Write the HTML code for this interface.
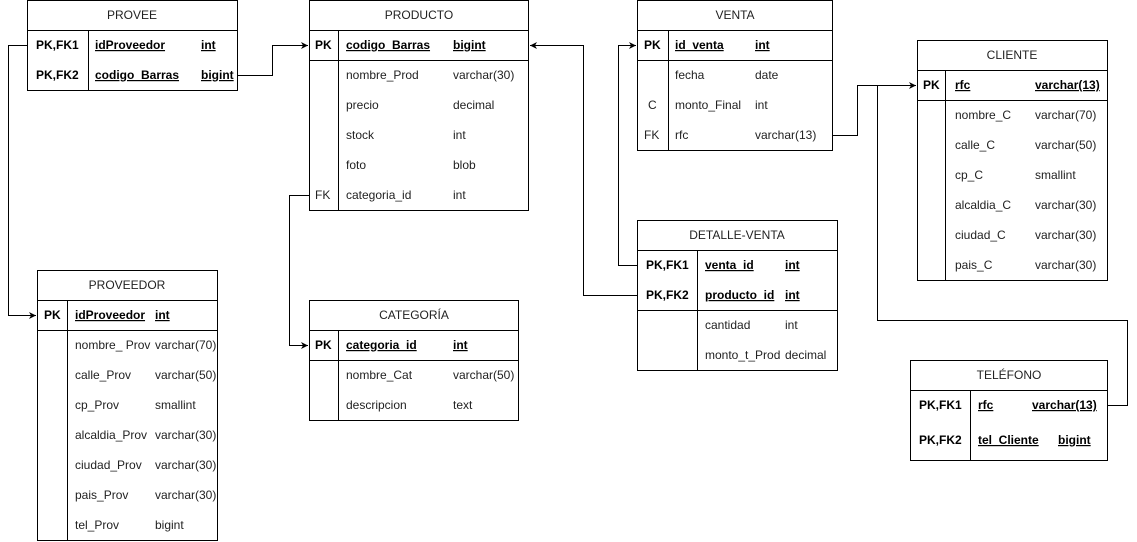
<!DOCTYPE html>
<html><head><meta charset="utf-8"><style>
html,body{margin:0;padding:0;background:#fff;}
svg{display:block;}
text{font-family:"Liberation Sans",sans-serif;font-size:12px;fill:#222;}
.h{text-anchor:middle;}
.k{font-weight:bold;fill:#000;}
.u{text-decoration:underline;font-weight:bold;fill:#000;}
</style></head><body>
<svg width="1137" height="542" viewBox="0 0 1137 542" xmlns="http://www.w3.org/2000/svg">
<defs><marker id="a" markerWidth="8" markerHeight="8" refX="7" refY="4" orient="auto" markerUnits="userSpaceOnUse"><path d="M0,0.5 L7,4 L0,7.5 L2,4 Z" fill="#000"/></marker></defs>
<g fill="none" stroke="#000" stroke-width="1">
<!-- connectors -->
<polyline points="27.5,45.5 8.5,45.5 8.5,315.5 36,315.5" marker-end="url(#a)"/>
<polyline points="237.5,75.5 272.5,75.5 272.5,45.5 308,45.5" marker-end="url(#a)"/>
<polyline points="309.5,195.5 289.5,195.5 289.5,345.5 308,345.5" marker-end="url(#a)"/>
<polyline points="637.5,295.5 583.5,295.5 583.5,45.5 530,45.5" marker-end="url(#a)"/>
<polyline points="637.5,265.5 618.5,265.5 618.5,45.5 636,45.5" marker-end="url(#a)"/>
<polyline points="832.5,135.5 857.5,135.5 857.5,85.5 916,85.5" marker-end="url(#a)"/>
<polyline points="1107.5,405.5 1127.5,405.5 1127.5,320.5 877.5,320.5 877.5,85.5 859,85.5"/>
<!-- PROVEE -->
<rect x="27.5" y="0.5" width="210" height="90"/><line x1="27.5" y1="30.5" x2="237.5" y2="30.5"/><line x1="88.5" y1="30.5" x2="88.5" y2="90.5"/>
<!-- PRODUCTO -->
<rect x="309.5" y="0.5" width="219" height="210"/><line x1="309.5" y1="30.5" x2="528.5" y2="30.5"/><line x1="309.5" y1="60.5" x2="528.5" y2="60.5"/><line x1="338.5" y1="30.5" x2="338.5" y2="210.5"/>
<!-- VENTA -->
<rect x="637.5" y="0.5" width="195" height="150"/><line x1="637.5" y1="30.5" x2="832.5" y2="30.5"/><line x1="637.5" y1="60.5" x2="832.5" y2="60.5"/><line x1="668.5" y1="30.5" x2="668.5" y2="150.5"/>
<!-- CLIENTE -->
<rect x="917.5" y="40.5" width="190" height="240"/><line x1="917.5" y1="70.5" x2="1107.5" y2="70.5"/><line x1="917.5" y1="100.5" x2="1107.5" y2="100.5"/><line x1="945.5" y1="70.5" x2="945.5" y2="280.5"/>
<!-- DETALLE -->
<rect x="637.5" y="220.5" width="200" height="150"/><line x1="637.5" y1="250.5" x2="837.5" y2="250.5"/><line x1="637.5" y1="310.5" x2="837.5" y2="310.5"/><line x1="697.5" y1="250.5" x2="697.5" y2="370.5"/>
<!-- PROVEEDOR -->
<rect x="37.5" y="270.5" width="180" height="270"/><line x1="37.5" y1="300.5" x2="217.5" y2="300.5"/><line x1="37.5" y1="330.5" x2="217.5" y2="330.5"/><line x1="67.5" y1="300.5" x2="67.5" y2="540.5"/>
<!-- CATEGORIA -->
<rect x="309.5" y="300.5" width="209" height="120"/><line x1="309.5" y1="330.5" x2="518.5" y2="330.5"/><line x1="309.5" y1="360.5" x2="518.5" y2="360.5"/><line x1="338.5" y1="330.5" x2="338.5" y2="420.5"/>
<!-- TELEFONO -->
<rect x="910.5" y="360.5" width="197" height="100"/><line x1="910.5" y1="390.5" x2="1107.5" y2="390.5"/><line x1="970.5" y1="390.5" x2="970.5" y2="460.5"/>
</g>
<!-- PROVEE text -->
<text class="h" x="132" y="19">PROVEE</text>
<text class="k" x="36" y="49">PK,FK1</text><text class="u" x="95" y="49">idProveedor</text><text class="u" x="201" y="49">int</text>
<text class="k" x="36" y="79">PK,FK2</text><text class="u" x="95" y="79">codigo_Barras</text><text class="u" x="201" y="79">bigint</text>
<!-- PRODUCTO -->
<text class="h" x="419" y="19">PRODUCTO</text>
<text class="k" x="315" y="49">PK</text><text class="u" x="346" y="49">codigo_Barras</text><text class="u" x="453" y="49">bigint</text>
<text x="346" y="79">nombre_Prod</text><text x="453" y="79">varchar(30)</text>
<text x="346" y="109">precio</text><text x="453" y="109">decimal</text>
<text x="346" y="139">stock</text><text x="453" y="139">int</text>
<text x="346" y="169">foto</text><text x="453" y="169">blob</text>
<text x="315" y="199">FK</text><text x="346" y="199">categoria_id</text><text x="453" y="199">int</text>
<!-- VENTA -->
<text class="h" x="735" y="19">VENTA</text>
<text class="k" x="644" y="49">PK</text><text class="u" x="675" y="49">id_venta</text><text class="u" x="755" y="49">int</text>
<text x="675" y="79">fecha</text><text x="755" y="79">date</text>
<text x="648" y="109">C</text><text x="675" y="109">monto_Final</text><text x="755" y="109">int</text>
<text x="644" y="139">FK</text><text x="675" y="139">rfc</text><text x="755" y="139">varchar(13)</text>
<!-- CLIENTE -->
<text class="h" x="1012" y="59">CLIENTE</text>
<text class="k" x="923" y="89">PK</text><text class="u" x="955" y="89">rfc </text><text class="u" x="1035" y="89">varchar(13)</text>
<text x="955" y="119">nombre_C</text><text x="1035" y="119">varchar(70)</text>
<text x="955" y="149">calle_C</text><text x="1035" y="149">varchar(50)</text>
<text x="955" y="179">cp_C</text><text x="1035" y="179">smallint</text>
<text x="955" y="209">alcaldia_C</text><text x="1035" y="209">varchar(30)</text>
<text x="955" y="239">ciudad_C</text><text x="1035" y="239">varchar(30)</text>
<text x="955" y="269">pais_C</text><text x="1035" y="269">varchar(30)</text>
<!-- DETALLE -->
<text class="h" x="737" y="239">DETALLE-VENTA</text>
<text class="k" x="646" y="269">PK,FK1</text><text class="u" x="705" y="269">venta_id</text><text class="u" x="785" y="269">int</text>
<text class="k" x="646" y="299">PK,FK2</text><text class="u" x="705" y="299">producto_id</text><text class="u" x="785" y="299">int</text>
<text x="705" y="329">cantidad</text><text x="785" y="329">int</text>
<text x="705" y="359">monto_t_Prod</text><text x="785" y="359">decimal</text>
<!-- PROVEEDOR -->
<text class="h" x="127" y="289">PROVEEDOR</text>
<text class="k" x="44" y="319">PK</text><text class="u" x="75" y="319">idProveedor</text><text class="u" x="155" y="319">int</text>
<text x="75" y="349">nombre_ Prov</text><text x="155" y="349">varchar(70)</text>
<text x="75" y="379">calle_Prov</text><text x="155" y="379">varchar(50)</text>
<text x="75" y="409">cp_Prov</text><text x="155" y="409">smallint</text>
<text x="75" y="439">alcaldia_Prov</text><text x="155" y="439">varchar(30)</text>
<text x="75" y="469">ciudad_Prov</text><text x="155" y="469">varchar(30)</text>
<text x="75" y="499">pais_Prov</text><text x="155" y="499">varchar(30)</text>
<text x="75" y="529">tel_Prov</text><text x="155" y="529">bigint</text>
<!-- CATEGORIA -->
<text class="h" x="414" y="319">CATEGORÍA</text>
<text class="k" x="315" y="349">PK</text><text class="u" x="346" y="349">categoria_id</text><text class="u" x="453" y="349">int</text>
<text x="346" y="379">nombre_Cat</text><text x="453" y="379">varchar(50)</text>
<text x="346" y="409">descripcion</text><text x="453" y="409">text</text>
<!-- TELEFONO -->
<text class="h" x="1009" y="379">TELÉFONO</text>
<text class="k" x="919" y="409">PK,FK1</text><text class="u" x="978" y="409">rfc</text><text class="u" x="1032" y="409">varchar(13)</text>
<text class="k" x="919" y="444">PK,FK2</text><text class="u" x="978" y="444">tel_Cliente</text><text class="u" x="1058" y="444">bigint</text>
</svg>
</body></html>
